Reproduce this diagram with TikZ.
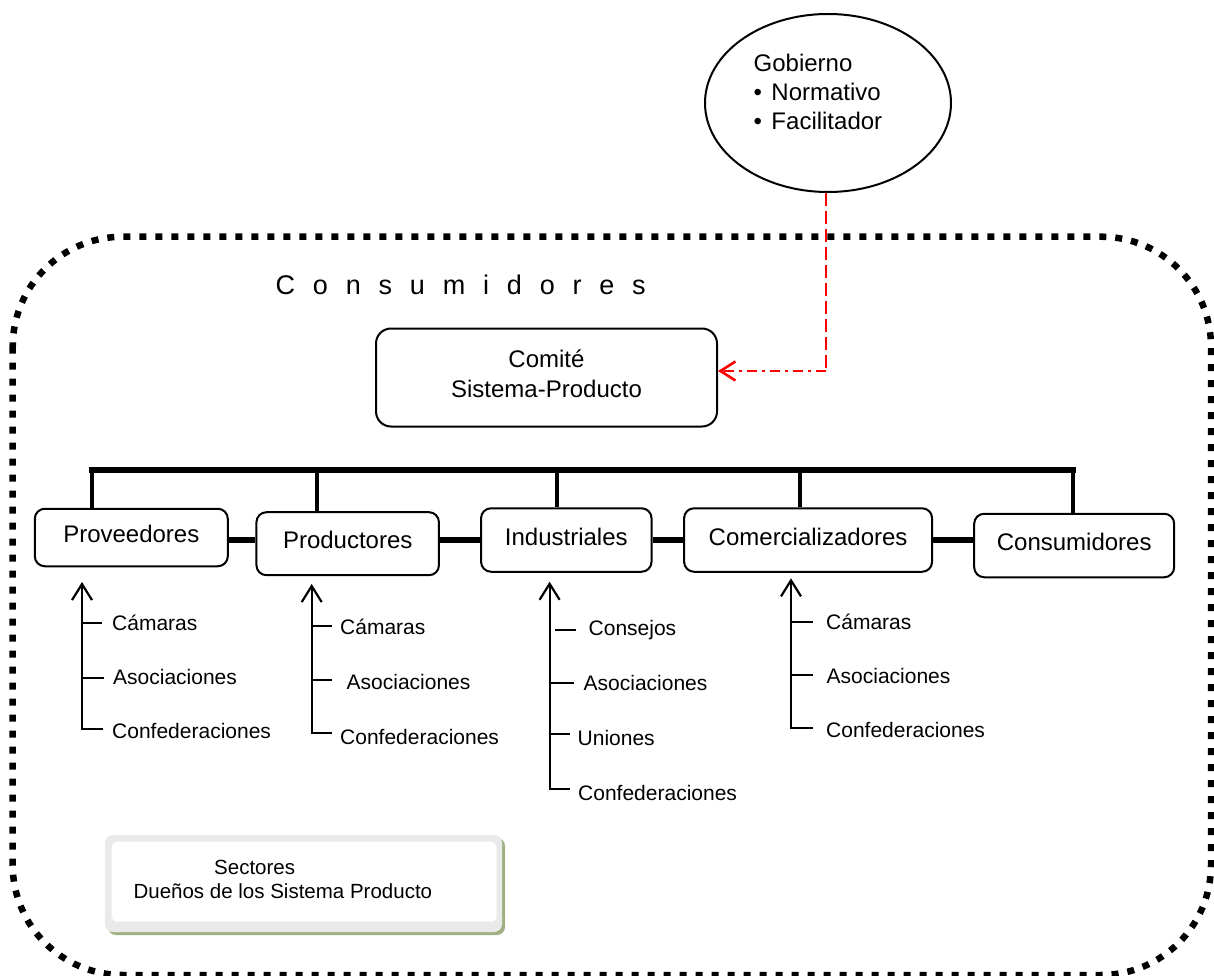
\documentclass[tikz,border=0pt]{standalone}
\usepackage{fontspec}
\setmainfont{Liberation Sans}
\newfontfamily\spacedfont{Liberation Sans}[LetterSpace=66]
\usetikzlibrary{arrows.meta,shapes.geometric}
\definecolor{shadowolive}{RGB}{160,176,130}
\definecolor{framegray}{RGB}{234,234,234}
\tikzset{
  secbox/.style={draw, line width=2pt, rounded corners=10pt, inner sep=0pt,
    text height=14pt, text depth=3.8pt, font=\fontsize{24}{29}\selectfont},
  sublabel/.style={anchor=base west, inner sep=0pt, font=\fontsize{21}{25}\selectfont},
  subarrow/.style={line width=2.2pt, -{Straight Barb[length=16pt,width=20pt]}},
  tickline/.style={line width=2.2pt},
  busline/.style={line width=5.5pt, line cap=rect},
  dropline/.style={line width=4pt},
  linkline/.style={line width=6pt},
  frameline/.style={line width=6.5pt, dash pattern=on 7pt off 9pt, rounded corners=110pt},
  govline/.style={red, line width=2.6pt, dash pattern=on 13pt off 5pt},
  govarrow/.style={red, line width=2.6pt, dash pattern=on 10pt off 5pt on 3pt off 5pt,
    -{Straight Barb[length=15pt,width=19pt]}},
}
\begin{document}
\begin{tikzpicture}[x=1pt, y=-1pt, line join=miter]
\useasboundingbox (0,0) rectangle (1214,976);

% outer dotted frame
\draw[frameline] (12.7,236.7) rectangle (1211,975);

% Gobierno
\node[ellipse, draw, line width=2pt, minimum width=246pt, minimum height=178pt, inner sep=0pt] (gob) at (828,103) {};
\node[anchor=north west, inner sep=0pt, align=left, font=\fontsize{24}{29}\selectfont] (gobtext) at (753.5,51)
  {\rule{0pt}{20pt}Gobierno\\•\hspace{9.4pt}Normativo\\•\hspace{9.4pt}Facilitador};

% spaced title
\node[anchor=base west, inner sep=0pt, font=\spacedfont\fontsize{27}{32}\selectfont] (title) at (275.5,294.7) {Consumidores};

% Comite
\node[draw, line width=2pt, rounded corners=15pt, minimum width=341pt, minimum height=98pt, inner sep=0pt] (comite) at (546.5,377.5) {};
\node[anchor=north, inner sep=0pt, align=center, font=\fontsize{24}{30}\selectfont] (comitetext) at (546.5,347)
  {\rule{0pt}{20pt}Comité\\Sistema-Producto};

% red connector
\coordinate (bend) at (826,371);
\draw[govline] (bend |- gob.south) -- (bend);
\draw[govarrow] (bend) -- (comite.east |- bend);

% sector boxes
\node[secbox, minimum width=193pt, minimum height=57.5pt] (prov) at (131.3,537.5) {Proveedores\hspace{13pt}};
\node[secbox, minimum width=182.5pt, minimum height=63pt] (prod) at (347.7,543.7) {Productores\hspace{9pt}};
\node[secbox, minimum width=170.5pt, minimum height=63.5pt] (ind) at (566.3,540) {Industriales};
\node[secbox, minimum width=248pt, minimum height=63.5pt] (com) at (808.1,540) {Comercializadores\hspace{4pt}};
\node[secbox, minimum width=200pt, minimum height=63.5pt] (cons) at (1074.2,545.5) {Consumidores};

% bus
\coordinate (b1) at (92,470);
\coordinate (b2) at (317,470);
\coordinate (b3) at (557,470);
\coordinate (b4) at (800,470);
\coordinate (b5) at (1073,470);
\draw[busline] (b1) -- (b5);
\draw[dropline] (b1) -- (b1 |- prov.north);
\draw[dropline] (b2) -- (b2 |- prod.north);
\draw[dropline] (b3) -- (b3 |- ind.north);
\draw[dropline] (b4) -- (b4 |- com.north);
\draw[dropline] (b5) -- (b5 |- cons.north);

% links between boxes
\coordinate (hl) at (0,539.5);
\draw[linkline] (prov.east |- hl) -- (prod.west |- hl);
\draw[linkline] (prod.east |- hl) -- (ind.west |- hl);
\draw[linkline] (ind.east |- hl) -- (com.west |- hl);
\draw[linkline] (com.east |- hl) -- (cons.west |- hl);

% Proveedores group
\coordinate (pvt) at (82,582);
\coordinate (pvb) at (82,729);
\draw[subarrow] (103,729) -- (pvb) -- (pvt);
\draw[tickline] (pvb |- 0,623.3) -- (102,623.3);
\draw[tickline] (pvb |- 0,677.7) -- (104,677.7);
\node[sublabel] (pv1) at (112,630.2) {Cámaras};
\node[sublabel] (pv2) at (113,684.2) {Asociaciones};
\node[sublabel] (pv3) at (112,738.5) {Confederaciones};

% Productores group
\coordinate (prt) at (311.7,584);
\coordinate (prb) at (311.7,733);
\draw[subarrow] (332,733) -- (prb) -- (prt);
\draw[tickline] (prb |- 0,625.7) -- (332,625.7);
\draw[tickline] (prb |- 0,680) -- (332,680);
\node[sublabel] (pr1) at (340,634.2) {Cámaras};
\node[sublabel] (pr2) at (346.5,689.8) {Asociaciones};
\node[sublabel] (pr3) at (340,744.2) {Confederaciones};

% Industriales group
\coordinate (int) at (549.6,581.7);
\coordinate (inb) at (549.6,789.3);
\draw[subarrow] (570,789.3) -- (inb) -- (int);
\draw[tickline] (555,630) -- (576,630);
\draw[tickline] (inb |- 0,682.7) -- (574,682.7);
\draw[tickline] (inb |- 0,734.3) -- (570,734.3);
\node[sublabel] (in1) at (588.5,635.8) {Consejos};
\node[sublabel] (in2) at (583.5,690.2) {Asociaciones};
\node[sublabel] (in3) at (577.5,745.2) {Uniones};
\node[sublabel] (in4) at (578,800.2) {Confederaciones};

% Comercializadores group
\coordinate (cot) at (791,578.3);
\coordinate (cob) at (791,728.3);
\draw[subarrow] (813,728.3) -- (cob) -- (cot);
\draw[tickline] (cob |- 0,622.3) -- (813,622.3);
\draw[tickline] (cob |- 0,675) -- (813,675);
\node[sublabel] (co1) at (826,629.2) {Cámaras};
\node[sublabel] (co2) at (826.5,683.5) {Asociaciones};
\node[sublabel] (co3) at (826,737.5) {Confederaciones};

% Sectores legend
\node[fill=shadowolive, rounded corners=8pt, minimum width=397pt, minimum height=97pt, inner sep=0pt] (sshadow) at (306.5,886.5) {};
\node[fill=framegray, rounded corners=8pt, minimum width=397pt, minimum height=97pt, inner sep=0pt] (sframe) at (303.5,883.5) {};
\node[fill=white, rounded corners=6pt, minimum width=385pt, minimum height=80pt, inner sep=0pt] (sect) at (304.2,881.7) {};
\node[anchor=north west, inner sep=0pt, align=left, font=\fontsize{20.5}{24.3}\selectfont] (secttext) at (133.4,856)
  {\rule{0pt}{18pt}\hspace{80.6pt}Sectores\\Dueños de los Sistema Producto};
\end{tikzpicture}
\end{document}
